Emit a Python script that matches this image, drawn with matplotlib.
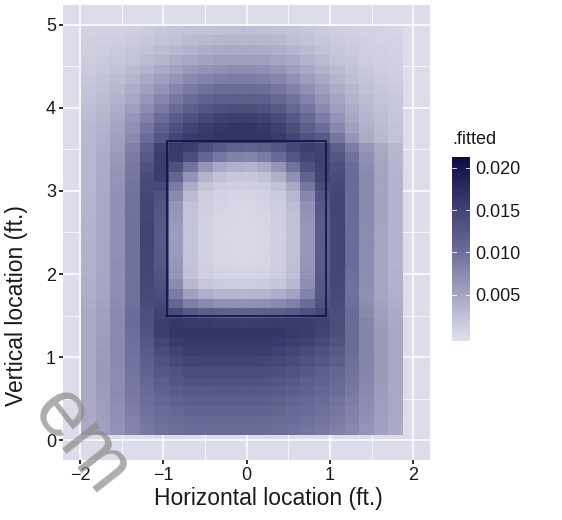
import numpy as np
import matplotlib.pyplot as plt
from matplotlib.colors import LinearSegmentedColormap, Normalize
from matplotlib.cm import ScalarMappable

plt.rcParams['font.family'] = ['Liberation Sans', 'DejaVu Sans']

# tile centres (ft.)
px = [-1.90, -1.72, -1.55, -1.37, -1.20, -1.02, -0.85, -0.67, -0.49, -0.32, -0.14,
      0.03, 0.21, 0.38, 0.56, 0.73, 0.91, 1.09, 1.26, 1.44, 1.61, 1.79]
pz = [0.12, 0.24, 0.35, 0.47, 0.59, 0.71, 0.82, 0.94, 1.06, 1.18, 1.29, 1.41, 1.53, 1.65,
      1.76, 1.88, 2.00, 2.12, 2.23, 2.35, 2.47, 2.59, 2.70, 2.82, 2.94, 3.05, 3.17, 3.29,
      3.41, 3.52, 3.64, 3.76, 3.88, 3.99, 4.11, 4.23, 4.35, 4.46, 4.58, 4.70, 4.82, 4.93]

# fitted values x 1000, rows listed from top (pz = 4.93) to bottom (pz = 0.12)
fitted_top_down = [
    [0.8, 0.9, 1.0, 1.2, 1.5, 1.8, 2.1, 2.4, 2.6, 2.8, 2.9, 2.9, 2.8, 2.6, 2.3, 2.0, 1.6, 1.3, 1.0, 0.8, 0.7, 0.6],
    [1.0, 1.1, 1.3, 1.6, 1.9, 2.3, 2.7, 3.1, 3.4, 3.6, 3.7, 3.7, 3.6, 3.3, 2.9, 2.5, 2.0, 1.6, 1.3, 1.0, 0.8, 0.7],
    [1.2, 1.4, 1.7, 2.0, 2.5, 3.0, 3.5, 4.0, 4.4, 4.7, 4.8, 4.8, 4.6, 4.3, 3.8, 3.2, 2.6, 2.0, 1.6, 1.2, 1.0, 0.8],
    [1.4, 1.7, 2.0, 2.5, 3.1, 3.8, 4.5, 5.1, 5.6, 6.0, 6.1, 6.1, 5.9, 5.4, 4.8, 4.0, 3.2, 2.5, 1.9, 1.5, 1.2, 1.0],
    [1.7, 2.0, 2.5, 3.1, 3.9, 4.8, 5.7, 6.5, 7.1, 7.5, 7.7, 7.7, 7.4, 6.8, 6.0, 5.0, 4.0, 3.1, 2.4, 1.8, 1.4, 1.2],
    [2.0, 2.4, 3.0, 3.8, 4.8, 5.9, 7.0, 8.0, 8.7, 9.2, 9.4, 9.4, 9.1, 8.4, 7.4, 6.2, 5.0, 3.8, 2.9, 2.2, 1.7, 1.4],
    [2.3, 2.8, 3.5, 4.5, 5.8, 7.1, 8.4, 9.6, 10.5, 11.0, 11.2, 11.2, 10.9, 10.1, 8.9, 7.5, 6.0, 4.6, 3.5, 2.6, 2.0, 1.6],
    [2.6, 3.1, 4.0, 5.2, 6.8, 8.4, 9.9, 11.2, 12.2, 12.8, 13.0, 13.0, 12.7, 11.8, 10.5, 8.8, 7.0, 5.4, 4.0, 3.0, 2.3, 1.8],
    [2.9, 3.5, 4.5, 6.0, 7.9, 9.8, 11.5, 12.9, 14.0, 14.7, 15.0, 15.0, 14.6, 13.6, 12.1, 10.2, 8.1, 6.2, 4.6, 3.4, 2.6, 2.0],
    [3.1, 3.8, 5.0, 6.8, 9.0, 11.3, 13.2, 14.7, 15.8, 16.5, 16.8, 16.8, 16.4, 15.3, 13.7, 11.6, 9.4, 7.0, 5.2, 3.8, 2.9, 2.2],
    [3.3, 4.0, 5.4, 7.4, 10.1, 12.7, 14.8, 16.3, 17.3, 17.9, 18.2, 18.2, 17.8, 16.7, 15.0, 12.8, 11.0, 8.2, 5.8, 4.2, 3.1, 2.4],
    [3.4, 4.2, 5.8, 8.0, 11.0, 14.0, 16.0, 17.2, 17.8, 18.1, 18.2, 18.3, 18.0, 17.3, 16.0, 14.5, 13.5, 10.0, 6.8, 4.6, 3.3, 2.6],
    [3.5, 4.4, 6.2, 9.0, 12.8, 16.5, 17.5, 16.8, 15.0, 13.5, 12.5, 12.3, 12.8, 14.0, 15.8, 16.8, 16.2, 13.0, 9.5, 6.8, 4.8, 3.5],
    [3.5, 4.5, 6.5, 9.5, 13.5, 17.0, 17.0, 15.0, 12.0, 10.0, 9.0, 8.8, 9.5, 11.5, 14.0, 16.0, 16.5, 14.0, 10.5, 7.5, 5.2, 3.7],
    [3.5, 4.6, 6.8, 9.8, 14.5, 17.2, 14.5, 10.5, 7.0, 5.0, 4.2, 4.0, 4.8, 7.0, 10.5, 14.5, 16.5, 14.8, 11.0, 7.8, 5.4, 3.8],
    [3.5, 4.7, 7.0, 10.0, 15.2, 16.8, 12.0, 7.0, 4.0, 2.6, 2.0, 2.0, 2.6, 4.2, 7.5, 12.5, 16.2, 15.3, 11.2, 8.0, 5.5, 3.9],
    [3.6, 4.8, 7.2, 10.3, 15.6, 15.5, 9.5, 4.5, 2.2, 1.4, 1.1, 1.1, 1.4, 2.5, 5.0, 10.0, 15.2, 15.8, 11.3, 8.0, 5.5, 4.0],
    [3.7, 4.9, 7.3, 10.4, 15.8, 14.5, 8.0, 3.2, 1.4, 0.9, 0.7, 0.7, 0.9, 1.7, 3.6, 8.2, 14.2, 16.0, 11.3, 8.0, 5.5, 4.0],
    [3.8, 5.0, 7.4, 10.5, 16.0, 14.0, 7.0, 2.6, 1.1, 0.7, 0.5, 0.5, 0.7, 1.4, 3.0, 7.2, 13.6, 16.0, 11.2, 8.0, 5.5, 4.0],
    [3.9, 5.0, 7.4, 10.5, 16.1, 13.8, 6.6, 2.4, 1.0, 0.6, 0.5, 0.5, 0.6, 1.3, 2.8, 7.0, 13.4, 16.1, 11.2, 8.0, 5.5, 4.0],
    [4.0, 5.1, 7.5, 10.6, 16.2, 13.6, 6.4, 2.3, 0.9, 0.6, 0.4, 0.4, 0.6, 1.2, 2.7, 6.8, 13.3, 16.1, 11.1, 7.9, 5.5, 4.0],
    [4.0, 5.1, 7.5, 10.6, 16.2, 13.5, 6.3, 2.2, 0.9, 0.5, 0.4, 0.4, 0.5, 1.2, 2.6, 6.7, 13.2, 16.1, 11.1, 7.9, 5.4, 4.0],
    [4.1, 5.2, 7.5, 10.6, 16.2, 13.5, 6.3, 2.2, 0.9, 0.5, 0.4, 0.4, 0.5, 1.2, 2.6, 6.7, 13.2, 16.1, 11.0, 7.9, 5.4, 4.0],
    [4.1, 5.2, 7.5, 10.6, 16.1, 13.6, 6.4, 2.3, 0.9, 0.6, 0.4, 0.4, 0.6, 1.2, 2.7, 6.8, 13.3, 16.0, 11.0, 7.8, 5.4, 4.0],
    [4.2, 5.2, 7.6, 10.6, 16.0, 13.8, 6.6, 2.4, 1.0, 0.6, 0.5, 0.5, 0.6, 1.3, 2.8, 6.9, 13.4, 16.0, 11.0, 7.8, 5.4, 4.0],
    [4.2, 5.3, 7.6, 10.6, 15.9, 14.2, 7.0, 2.7, 1.2, 0.8, 0.7, 0.7, 0.8, 1.4, 2.9, 7.1, 13.5, 15.9, 10.9, 7.8, 5.4, 4.1],
    [4.3, 5.3, 7.6, 10.6, 15.8, 14.6, 7.8, 3.5, 2.0, 1.6, 1.5, 1.5, 1.6, 2.1, 3.5, 7.6, 13.6, 15.8, 10.8, 7.7, 5.4, 4.1],
    [4.4, 5.4, 7.6, 10.6, 15.5, 15.2, 9.5, 5.8, 4.3, 3.8, 3.6, 3.6, 3.8, 4.3, 5.6, 8.8, 13.8, 15.5, 10.6, 7.5, 5.4, 4.2],
    [4.6, 5.6, 7.8, 10.8, 15.2, 15.8, 12.0, 9.2, 8.0, 7.5, 7.3, 7.3, 7.5, 8.0, 9.0, 11.2, 14.5, 15.2, 10.8, 7.7, 5.6, 4.4],
    [4.8, 5.8, 8.0, 11.0, 14.8, 16.5, 15.5, 13.8, 13.0, 12.7, 12.5, 12.5, 12.7, 13.0, 13.5, 14.5, 15.5, 15.0, 11.2, 8.2, 6.0, 4.7],
    [5.0, 6.0, 8.0, 11.0, 14.5, 17.0, 17.8, 17.6, 17.4, 17.2, 17.0, 17.0, 17.2, 17.3, 17.2, 17.0, 16.5, 15.0, 11.5, 8.5, 6.3, 5.0],
    [5.0, 6.2, 8.0, 10.9, 14.2, 16.8, 18.0, 18.2, 18.2, 18.2, 18.1, 18.1, 18.2, 18.0, 17.6, 17.0, 16.3, 14.8, 11.5, 8.6, 6.5, 5.1],
    [5.0, 6.3, 8.0, 10.8, 13.8, 16.0, 17.2, 17.6, 17.8, 17.8, 17.8, 17.8, 17.7, 17.4, 16.9, 16.2, 15.4, 14.2, 11.3, 8.6, 6.5, 5.1],
    [5.0, 6.4, 8.0, 10.6, 13.3, 15.2, 16.3, 16.8, 17.0, 17.0, 17.0, 17.0, 16.8, 16.5, 16.0, 15.3, 14.6, 13.5, 11.1, 8.6, 6.5, 5.1],
    [5.0, 6.4, 8.0, 10.4, 12.8, 14.5, 15.5, 16.0, 16.1, 16.1, 16.1, 16.1, 16.0, 15.6, 15.1, 14.5, 13.8, 12.8, 10.8, 8.5, 6.5, 5.1],
    [5.0, 6.4, 7.9, 10.2, 12.3, 13.8, 14.6, 15.1, 15.3, 15.3, 15.3, 15.3, 15.1, 14.8, 14.3, 13.7, 13.0, 12.1, 10.5, 8.4, 6.5, 5.1],
    [5.0, 6.4, 7.9, 10.0, 11.8, 13.1, 13.9, 14.3, 14.5, 14.5, 14.5, 14.5, 14.3, 14.0, 13.6, 13.0, 12.4, 11.5, 10.1, 8.2, 6.4, 5.1],
    [5.0, 6.3, 7.8, 9.8, 11.4, 12.5, 13.2, 13.6, 13.7, 13.8, 13.8, 13.8, 13.6, 13.3, 12.9, 12.4, 11.8, 11.0, 9.7, 8.0, 6.3, 5.0],
    [5.0, 6.2, 7.7, 9.5, 11.0, 11.9, 12.5, 12.9, 13.0, 13.1, 13.1, 13.1, 12.9, 12.6, 12.2, 11.8, 11.2, 10.4, 9.3, 7.8, 6.2, 5.0],
    [4.9, 6.1, 7.5, 9.2, 10.6, 11.4, 11.9, 12.2, 12.4, 12.4, 12.4, 12.4, 12.2, 12.0, 11.6, 11.2, 10.7, 9.9, 8.9, 7.6, 6.0, 4.9],
    [4.8, 6.0, 7.3, 8.9, 10.2, 10.9, 11.4, 11.7, 11.8, 11.8, 11.8, 11.8, 11.7, 11.4, 11.1, 10.7, 10.2, 9.5, 8.6, 7.3, 5.9, 4.8],
    [4.7, 5.8, 7.1, 8.6, 9.8, 10.5, 10.9, 11.1, 11.2, 11.3, 11.3, 11.3, 11.1, 10.9, 10.6, 10.2, 9.7, 9.0, 8.2, 7.0, 5.7, 4.7],
]

# strike zone
zone_x = [-0.95, 0.95]
zone_z = [1.5, 3.6]

x_ticks = [-2, -1, 0, 1, 2]
y_ticks = [0, 1, 2, 3, 4, 5]
cbar_ticks = [0.005, 0.010, 0.015, 0.020]
fit_min, fit_max = -0.0005, 0.0213

fitted = np.array(fitted_top_down[::-1]) / 1000.0

bg = '#DCDCEA'
cmap = LinearSegmentedColormap.from_list(
    'fit', [(0.0, '#E0E0EE'), (0.5, '#6A6A99'), (1.0, '#0C0C42')])
norm = Normalize(fit_min, fit_max)

fig = plt.figure(figsize=(5.62, 5.20), dpi=100)
ax = fig.add_axes([0.1126, 0.1154, 0.6525, 0.875])
ax.set_facecolor(bg)
ax.set_axisbelow(True)
ax.set_xticks(x_ticks)
ax.set_yticks(y_ticks)
ax.set_xticks(np.arange(-1.5, 2.0, 1.0), minor=True)
ax.set_yticks(np.arange(0.5, 5.0, 1.0), minor=True)
ax.grid(which='major', color='white', linewidth=1.1)
ax.grid(which='minor', color='white', linewidth=0.55)

ax.pcolormesh(px, pz, fitted, cmap=cmap, norm=norm, shading='nearest',
              alpha=0.93, zorder=1, edgecolors='none')

ax.plot([zone_x[0], zone_x[1], zone_x[1], zone_x[0], zone_x[0]],
        [zone_z[0], zone_z[0], zone_z[1], zone_z[1], zone_z[0]],
        color='#10104E', linewidth=1.2, zorder=3)

ax.set_xlim(-2.2, 2.2)
ax.set_ylim(-0.24, 5.24)
for s in ax.spines.values():
    s.set_visible(False)
ax.tick_params(which='major', length=3.2, width=1.3, color='#14144A',
               labelsize=13, labelcolor='#1a1a1a', pad=2)
ax.tick_params(which='minor', length=0)
ax.set_xticklabels(['\u22122', '\u22121', '0', '1', '2'])

fig.text(268 / 562, 1 - 499 / 520, 'Horizontal location (ft.)', fontsize=16.5,
         ha='center', va='center', color='#1a1a1a')
fig.text(17 / 562, 1 - 306 / 520, 'Vertical location (ft.)', fontsize=16.5,
         ha='center', va='center', rotation=90, color='#1a1a1a')

# colour bar
cax = fig.add_axes([452 / 562, 1 - 341 / 520, 18 / 562, 184 / 520])
sm = ScalarMappable(norm=norm, cmap=cmap)
cb = fig.colorbar(sm, cax=cax, ticks=cbar_ticks)
cb.outline.set_visible(False)
cb.ax.set_yticklabels(['0.005', '0.010', '0.015', '0.020'])
cb.ax.tick_params(length=0, labelsize=13, pad=4, labelcolor='#1a1a1a')
for t in cbar_ticks:
    cb.ax.plot([0, 0.2], [t, t], color='white', linewidth=0.6, transform=cb.ax.get_yaxis_transform())
    cb.ax.plot([0.8, 1.0], [t, t], color='white', linewidth=0.6, transform=cb.ax.get_yaxis_transform())
fig.text(452 / 562, 1 - 140 / 520, '.fitted', fontsize=13, ha='left', va='center', color='#1a1a1a')

# watermark remnant
fig.text(80 / 562, 1 - 442 / 520, 'em', fontsize=58, color='#8a8a8a', alpha=0.7,
         rotation=-52, ha='center', va='center')

fig.savefig('out.png', dpi=100)
